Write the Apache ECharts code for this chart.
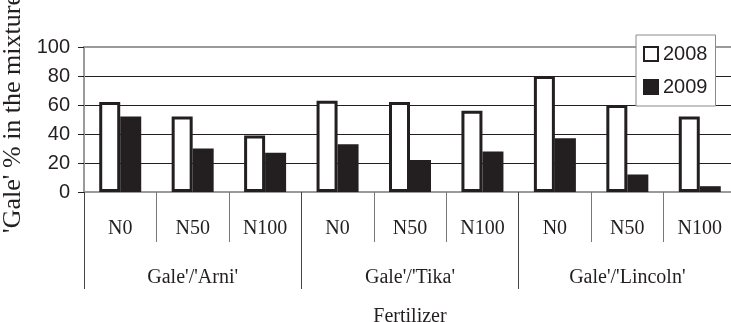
<!DOCTYPE html>
<html>
<head>
<meta charset="utf-8">
<script src="https://cdn.jsdelivr.net/npm/echarts@6/dist/echarts.min.js"></script>
<style>html,body{margin:0;padding:0;background:#fff;}#c{width:731px;height:322px;}</style>
</head>
<body>
<div id="c"></div>
<script>
const categories = ["N0","N50","N100","N0","N50","N100","N0","N50","N100"];
const groups = ["Gale'/'Arni'","Gale'/'Tika'","Gale'/'Lincoln'"];
const series2008 = [62, 52, 39, 63, 62, 56, 80, 60, 52];
const series2009 = [52, 30, 27, 33, 22, 28, 37, 12, 4];
const yTicks = [0, 20, 40, 60, 80, 100];

const ink = '#231f20';
const chart = echarts.init(document.getElementById('c'), null, {renderer: 'canvas'});
chart.setOption({
  animation: false,
  backgroundColor: '#fff',
  grid: {left: 84, top: 47, bottom: 130, right: -5, containLabel: false, outerBoundsMode: 'none',
         show: true, borderColor: '#9a9a9a', borderWidth: 2, backgroundColor: 'transparent'},
  legend: {
    data: ['2008', '2009'],
    orient: 'vertical',
    left: 636, top: 35,
    icon: 'rect',
    itemWidth: 14, itemHeight: 14, itemGap: 13, itemTextGap: 2,
    padding: [9, 8, 9, 7],
    borderColor: '#8a8a8a', borderWidth: 1, backgroundColor: '#fff',
    textStyle: {fontFamily: 'Liberation Sans', fontSize: 20, color: ink},
    z: 10
  },
  xAxis: [
    {
      type: 'category', data: categories, position: 'bottom',
      axisLine: {lineStyle: {color: '#9a9a9a', width: 2}},
      axisTick: {show: true, length: 50, lineStyle: {color: '#777', width: 1}},
      axisLabel: {interval: 0, margin: 27, fontFamily: 'Liberation Serif', fontSize: 20, color: ink}
    },
    {
      type: 'category', data: groups, position: 'bottom',
      axisLine: {show: false},
      axisTick: {show: true, length: 97, lineStyle: {color: '#444', width: 1}},
      axisLabel: {interval: 0, margin: 76, fontFamily: 'Liberation Serif', fontSize: 20, color: ink},
      name: 'Fertilizer', nameLocation: 'middle', nameGap: 115,
      nameTextStyle: {fontFamily: 'Liberation Serif', fontSize: 20, color: ink}
    }
  ],
  yAxis: {
    type: 'value', min: yTicks[0], max: yTicks[yTicks.length - 1], interval: 20,
    axisLine: {show: true, lineStyle: {color: '#9a9a9a', width: 2}},
    axisTick: {show: true, length: 6, lineStyle: {color: ink, width: 1}},
    axisLabel: {margin: 14, fontFamily: 'Liberation Sans', fontSize: 20, color: ink},
    splitLine: {show: true, lineStyle: {color: [ink, ink, ink, ink, ink, '#9a9a9a'], width: 1}},
    name: "'Gale' % in the mixture", nameLocation: 'middle', nameGap: 55, nameRotate: 90,
    nameTextStyle: {fontFamily: 'Liberation Serif', fontSize: 26, color: ink, padding: [0, 0, 0, 12]}
  },
  series: [
    {
      name: '2008', type: 'bar', data: series2008, xAxisIndex: 0,
      barWidth: 21, barGap: '0%',
      itemStyle: {color: '#fff', borderColor: ink, borderWidth: 3}
    },
    {
      name: '2009', type: 'bar', data: series2009, xAxisIndex: 0,
      barWidth: 21, barGap: '0%',
      itemStyle: {color: ink, borderColor: ink, borderWidth: 3}
    }
  ]
});
</script>
</body>
</html>
